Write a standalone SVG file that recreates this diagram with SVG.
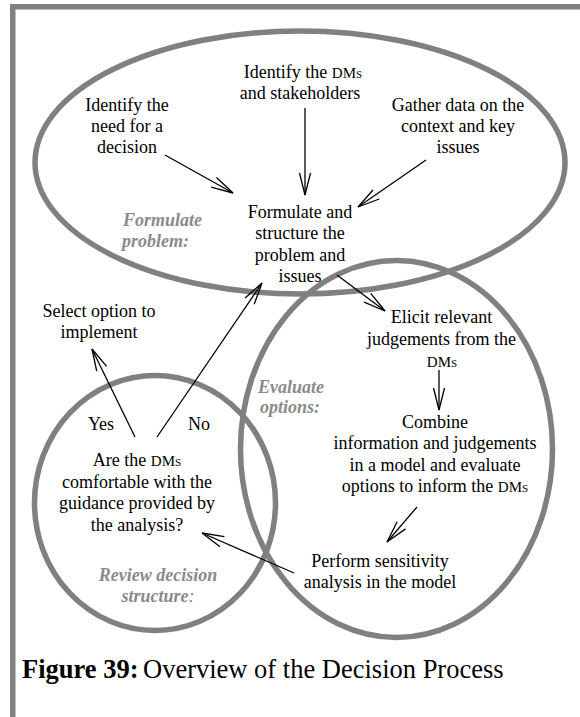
<svg xmlns="http://www.w3.org/2000/svg" width="580" height="717" viewBox="0 0 580 717">
  <style>
    .ring { fill: none; stroke: #808080; stroke-width: 5.5; }
    .frame { fill: #808080; }
    .t { font-family: "Liberation Serif", "Times New Roman", serif; font-size: 18px; fill: #000; text-anchor: middle; }
    .lbl { font-family: "Liberation Serif", "Times New Roman", serif; font-size: 18px; font-weight: bold; font-style: italic; fill: #8a8a8a; }
    .sc { font-size: 15px; font-variant: small-caps; }
    .cap { font-family: "Liberation Serif", "Times New Roman", serif; font-size: 26.5px; fill: #000; }
    .arrow { fill: none; stroke: #000; stroke-width: 1.3; marker-end: url(#head); }
  </style>
  <defs>
    <marker id="head" markerUnits="userSpaceOnUse" markerWidth="24" markerHeight="13" refX="22" refY="5.5" orient="auto" overflow="visible">
      <path d="M0,0 L22,5.5 L0,11" fill="none" stroke="#000" stroke-width="1.3"/>
    </marker>
  </defs>

  <!-- page frame -->
  <g id="frame">
    <rect class="frame" x="10" y="4" width="570" height="5.5"/>
    <rect class="frame" x="10" y="4" width="5.5" height="713"/>
  </g>

  <!-- stage rings -->
  <g id="stages">
    <ellipse id="formulate-ring" class="ring" cx="300" cy="162.5" rx="265" ry="131.5"/>
    <ellipse id="evaluate-ring" class="ring" cx="396.5" cy="449" rx="156" ry="188.5"/>
    <ellipse id="review-ring" class="ring" cx="155" cy="503" rx="120.5" ry="127.5"/>
  </g>

  <!-- stage labels -->
  <g id="stage-labels">
    <text class="lbl" x="123" y="226">Formulate</text>
    <text class="lbl" x="122" y="247">problem:</text>
    <text class="lbl" x="258" y="393">Evaluate</text>
    <text class="lbl" x="260" y="413">options:</text>
    <text class="lbl" x="158" y="581" text-anchor="middle">Review decision</text>
    <text class="lbl" x="158" y="602" text-anchor="middle">structure<tspan font-weight="normal">:</tspan></text>
  </g>

  <!-- steps -->
  <g id="need">
    <text class="t" x="127" y="111">Identify the</text>
    <text class="t" x="127" y="132">need for a</text>
    <text class="t" x="127" y="153">decision</text>
  </g>
  <g id="stakeholders">
    <text class="t" x="303" y="78">Identify the <tspan class="sc">DMs</tspan></text>
    <text class="t" x="300" y="99">and  stakeholders</text>
  </g>
  <g id="gather">
    <text class="t" x="458" y="111">Gather data on the</text>
    <text class="t" x="458" y="132">context and key</text>
    <text class="t" x="458" y="153">issues</text>
  </g>
  <g id="structure">
    <text class="t" x="300" y="218">Formulate and</text>
    <text class="t" x="300" y="239">structure the</text>
    <text class="t" x="300" y="261">problem and</text>
    <text class="t" x="300" y="282">issues</text>
  </g>
  <g id="elicit">
    <text class="t" x="441.5" y="323">Elicit relevant</text>
    <text class="t" x="441.5" y="345">judgements from the</text>
    <text class="t" x="442" y="367"><tspan class="sc">DMs</tspan></text>
  </g>
  <g id="combine">
    <text class="t" x="435" y="428">Combine</text>
    <text class="t" x="435" y="449">information and judgements</text>
    <text class="t" x="435" y="471">in a model and evaluate</text>
    <text class="t" x="435" y="492">options to inform the <tspan class="sc">DMs</tspan></text>
  </g>
  <g id="sensitivity">
    <text class="t" x="380" y="567">Perform sensitivity</text>
    <text class="t" x="380" y="588">analysis in the model</text>
  </g>
  <g id="comfortable">
    <text class="t" x="137" y="466">Are the <tspan class="sc">DMs</tspan></text>
    <text class="t" x="137" y="488">comfortable with the</text>
    <text class="t" x="137" y="509">guidance provided by</text>
    <text class="t" x="137" y="531">the analysis?</text>
  </g>
  <g id="select">
    <text class="t" x="99" y="317">Select option to</text>
    <text class="t" x="99" y="338">implement</text>
  </g>
  <g id="answers">
    <text class="t" x="101" y="430">Yes</text>
    <text class="t" x="199" y="430">No</text>
  </g>

  <!-- connectors -->
  <g id="connectors">
    <line class="arrow" x1="165" y1="155" x2="233" y2="193"/>
    <line class="arrow" x1="305" y1="108" x2="305" y2="195"/>
    <line class="arrow" x1="426" y1="160" x2="358" y2="207"/>
    <line class="arrow" x1="337" y1="275" x2="385" y2="311"/>
    <line class="arrow" x1="439" y1="370" x2="439" y2="410"/>
    <line class="arrow" x1="417" y1="507" x2="387" y2="542"/>
    <line class="arrow" x1="294" y1="573" x2="202" y2="533"/>
    <line class="arrow" x1="135" y1="437" x2="92" y2="349"/>
    <line class="arrow" x1="157" y1="437" x2="262" y2="283"/>
  </g>

  <!-- caption -->
  <text class="cap" y="678"><tspan x="22" font-weight="bold">Figure 39:</tspan><tspan x="143">Overview of the Decision Process</tspan></text>
</svg>
